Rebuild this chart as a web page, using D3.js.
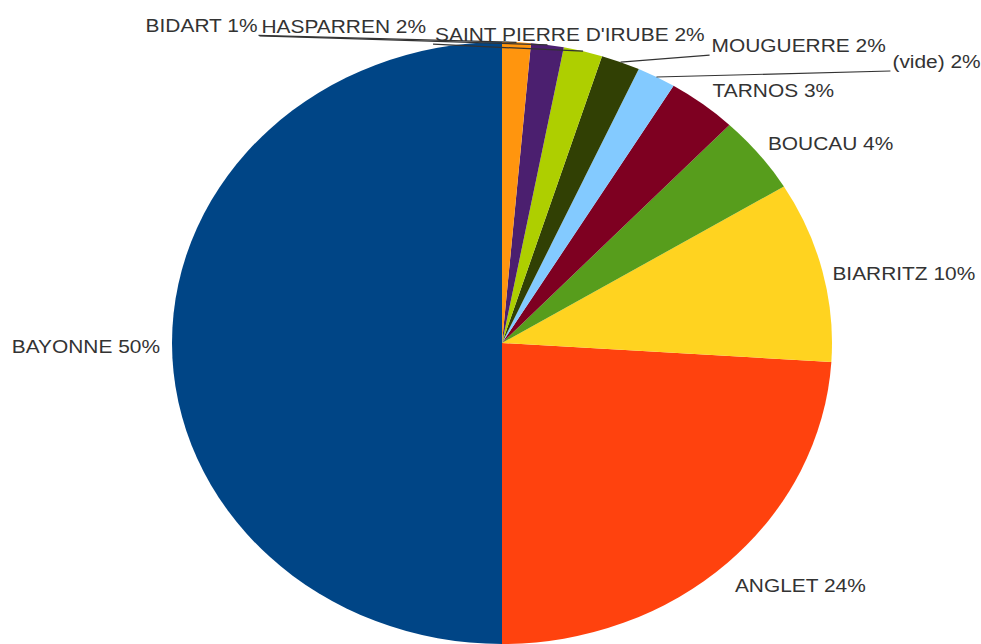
<!DOCTYPE html>
<html>
<head>
<meta charset="utf-8">
<script src="https://cdn.jsdelivr.net/npm/d3@7"></script>
<style>
  html, body { margin: 0; padding: 0; background: #fff; }
  svg { display: block; }
</style>
</head>
<body>
<div id="chart"></div>
<script>
// data, in the spreadsheet's series order (drawn counter-clockwise from the top)
const communes = ["BAYONNE", "ANGLET", "BIARRITZ", "BOUCAU", "TARNOS", "(vide)", "MOUGUERRE", "SAINT PIERRE D'IRUBE", "HASPARREN", "BIDART"];
const shares = [50.0, 24.0, 9.7, 4.2, 3.4, 1.9, 1.9, 1.9, 1.6, 1.4];
const colors = ["#004586", "#ff420e", "#ffd320", "#579d1c", "#7e0021", "#83caff", "#314004", "#aecf00", "#4b1f6f", "#ff950e"];

(function () {
  const width = 981, height = 644;
  const cx = 502, cy = 343;
  const rx = 330, ry = 301;   // the picture is stretched a bit horizontally

  // label nudges from the slice's edge point: [dx, dy, anchor, leader]
  const labelPlace = {
    "BAYONNE": [-12, 10, "end", false],
    "ANGLET": [7, 30, "start", false],
    "BIARRITZ": [10, 9, "start", false],
    "BOUCAU": [9, -4, "start", false],
    "TARNOS": [10, -7, "start", false],
    "(vide)": [236, -9, "start", true],
    "MOUGUERRE": [91, -10, "start", true],
    "SAINT PIERRE D'IRUBE": [-148, -10, "start", true],
    "HASPARREN": [-286, -12, "start", true],
    "BIDART": [-259, -10, "end", true]
  };

  const data = communes.map((name, i) => ({ name, value: shares[i], color: colors[i] }));

  const svg = d3.select("#chart").append("svg")
    .attr("width", width).attr("height", height);

  const pie = d3.pie().sort(null).value(d => d.value)
    .startAngle(0).endAngle(-2 * Math.PI);
  const arcs = pie(data);
  const arc = d3.arc().innerRadius(0).outerRadius(ry);

  // Draw slices
  const g = svg.append("g")
    .attr("transform", `translate(${cx},${cy}) scale(${rx / ry},1)`);
  g.selectAll("path").data(arcs).enter().append("path")
    .attr("d", arc)
    .attr("fill", d => d.data.color);

  // Draw labels
  const lab = svg.append("g")
    .attr("font-family", "'Liberation Sans', Arial, sans-serif")
    .attr("font-size", 19)
    .attr("fill", "#333");

  arcs.forEach(a => {
    const mid = (a.startAngle + a.endAngle) / 2;
    const px = cx + rx * Math.sin(mid);
    const py = cy - ry * Math.cos(mid);
    const p = labelPlace[a.data.name];
    const tx = px + p[0], ty = py + p[1];

    if (p[3]) {
      svg.append("line")
        .attr("x1", p[2] === "end" ? tx + 1 : tx - 2).attr("y1", ty + 3)
        .attr("x2", px).attr("y2", py)
        .attr("stroke", "#333").attr("stroke-width", 1.2);
    }

    lab.append("text")
      .attr("transform", `translate(${tx},${ty}) scale(1.1,1)`)
      .attr("text-anchor", p[2])
      .text(a.data.name + " " + Math.round(a.data.value) + "%");
  });
})();
</script>
</body>
</html>
